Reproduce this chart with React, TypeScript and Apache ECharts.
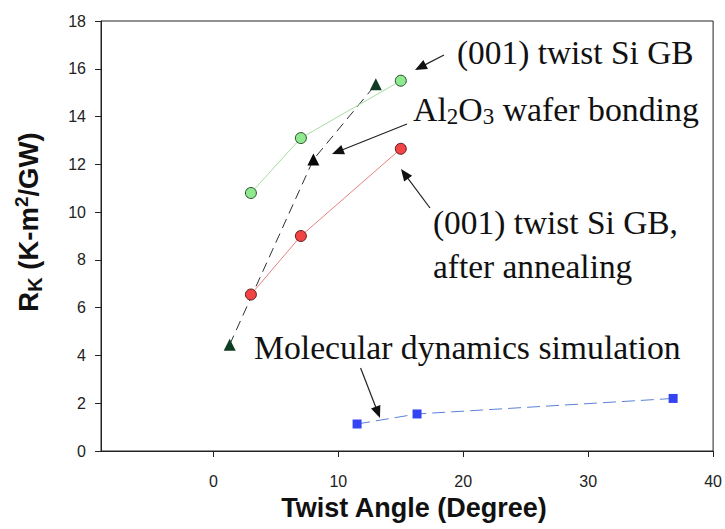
import React, { useEffect, useRef } from 'react';
import * as echarts from 'echarts';

// ---- data ----
const xTickValues = [0, 10, 20, 30, 40];
const siGbX = [3, 7, 15];
const siGbY = [10.8, 13.1, 15.5];
const annealX = [3, 7, 15];
const annealY = [6.55, 9.0, 12.65];
const waferX = [1.3, 8, 13];
const waferY = [4.45, 12.2, 15.35];
const mdX = [11.5, 16.3, 36.8];
const mdY = [1.13, 1.55, 2.2];

const labelSiGb = '(001) twist Si GB';
const labelAnneal = '(001) twist Si GB,\nafter annealing';
const labelMd = 'Molecular dynamics simulation';
const xTitle = 'Twist Angle (Degree)';

const pairs = (xs: number[], ys: number[]) => xs.map((x, i) => [x, ys[i]]);

const SERIF = "'Liberation Serif', 'Times New Roman', serif";
const SANS = "'Liberation Sans', Arial, sans-serif";

function arrow(x1: number, y1: number, x2: number, y2: number) {
  const dx = x2 - x1;
  const dy = y2 - y1;
  const len = Math.hypot(dx, dy);
  const ux = dx / len;
  const uy = dy / len;
  const hl = 12;
  const hw = 5;
  const bx = x2 - ux * hl;
  const by = y2 - uy * hl;
  return [
    { type: 'line', silent: true, shape: { x1, y1, x2: bx + ux * 2, y2: by + uy * 2 }, style: { stroke: '#222', lineWidth: 1.2 } },
    {
      type: 'polygon',
      silent: true,
      shape: { points: [[x2, y2], [bx - uy * hw, by + ux * hw], [bx + uy * hw, by - ux * hw]] },
      style: { fill: '#111' },
    },
  ];
}

export default function App() {
  const ref = useRef<HTMLDivElement>(null);
  useEffect(() => {
    if (!ref.current) return;
    const chart = echarts.init(ref.current, undefined, { renderer: 'svg' });
    const option: any = {
      animation: false,
      backgroundColor: '#ffffff',
      grid: { left: 101, top: 21, right: 7, bottom: 78, show: true, borderColor: '#222', borderWidth: 1 },
      xAxis: {
        type: 'value',
        min: -9,
        max: 40,
        splitLine: { show: false },
        axisLine: { onZero: false, lineStyle: { color: '#222', width: 1 } },
        axisTick: { show: true, length: 6, customValues: xTickValues, lineStyle: { color: '#222' } },
        axisLabel: { customValues: xTickValues, margin: 22, fontSize: 16, color: '#222', fontFamily: SANS },
      },
      yAxis: {
        type: 'value',
        min: 0,
        max: 18,
        interval: 2,
        splitLine: { show: false },
        axisLine: { show: true, onZero: false, lineStyle: { color: '#222', width: 1 } },
        axisTick: { show: true, length: 6, lineStyle: { color: '#222' } },
        axisLabel: { margin: 15, fontSize: 16, color: '#222', fontFamily: SANS },
      },
      series: [
        {
          name: labelSiGb,
          type: 'line',
          data: pairs(siGbX, siGbY),
          symbol: 'circle',
          symbolSize: 11,
          itemStyle: { color: '#8fe98f', borderColor: '#2b4a2b', borderWidth: 1 },
          lineStyle: { color: '#a6dea0', width: 1 },
          z: 3,
        },
        {
          name: labelAnneal,
          type: 'line',
          data: pairs(annealX, annealY),
          symbol: 'circle',
          symbolSize: 11,
          itemStyle: { color: '#f24444', borderColor: '#5a1c1c', borderWidth: 1 },
          lineStyle: { color: '#e68080', width: 1 },
          z: 3,
        },
        {
          name: 'Al2O3 wafer bonding',
          type: 'line',
          data: pairs(waferX, waferY),
          symbol: 'triangle',
          symbolSize: 12,
          itemStyle: { color: (p: any) => (p.dataIndex === 1 ? '#080808' : '#0d3d22') },
          lineStyle: { color: '#2a2f33', width: 1, type: [10, 6] },
          z: 2,
        },
        {
          name: labelMd,
          type: 'line',
          data: pairs(mdX, mdY),
          symbol: 'rect',
          symbolSize: 9,
          itemStyle: { color: '#3444f4' },
          lineStyle: { color: '#5b80d6', width: 1, type: [13, 6] },
          z: 2,
        },
      ],
      graphic: [
        {
          type: 'text',
          x: 457,
          y: 52,
          style: { text: labelSiGb, font: `33.4px ${SERIF}`, fill: '#111', verticalAlign: 'middle' },
        },
        {
          type: 'text',
          x: 413,
          y: 109,
          style: {
            text: '{m|Al}{s|2}{m|O}{s|3}{m| wafer bonding}',
            verticalAlign: 'middle',
            rich: {
              m: { fontSize: 33.8, fontFamily: SERIF, lineHeight: 38, fill: '#111' },
              s: { fontSize: 23, fontFamily: SERIF, lineHeight: 22, verticalAlign: 'bottom', fill: '#111' },
            },
          },
        },
        {
          type: 'text',
          x: 433,
          y: 244,
          style: { text: labelAnneal, font: `33.4px ${SERIF}`, lineHeight: 44, fill: '#111', verticalAlign: 'middle' },
        },
        {
          type: 'text',
          x: 254,
          y: 347,
          style: { text: labelMd, font: `33.7px ${SERIF}`, fill: '#111', verticalAlign: 'middle' },
        },
        {
          type: 'text',
          x: 414,
          y: 508,
          style: { text: xTitle, font: `bold 27px ${SANS}`, fill: '#111', align: 'center', verticalAlign: 'middle' },
        },
        {
          type: 'text',
          x: 28.5,
          y: 222,
          rotation: Math.PI / 2,
          style: {
            text: '{m|R}{s|K}{m| (K-m}{p|2}{m|/GW)}',
            align: 'center',
            verticalAlign: 'middle',
            rich: {
              m: { fontSize: 27.5, fontWeight: 'bold', fontFamily: SANS, lineHeight: 33, fill: '#111' },
              s: { fontSize: 20, fontWeight: 'bold', fontFamily: SANS, lineHeight: 28, verticalAlign: 'bottom', fill: '#111' },
              p: { fontSize: 19, fontWeight: 'bold', fontFamily: SANS, lineHeight: 19, verticalAlign: 'top', fill: '#111' },
            },
          },
        },
        ...arrow(444, 55, 415, 70),
        ...arrow(407, 124, 332, 154),
        ...arrow(430, 208, 401, 169),
        ...arrow(360.6, 368, 380, 418),
      ],
    };
    chart.setOption(option);
    return () => chart.dispose();
  }, []);
  return <div ref={ref} style={{ position: 'fixed', left: 0, top: 0, width: 725, height: 529, background: '#fff' }} />;
}
